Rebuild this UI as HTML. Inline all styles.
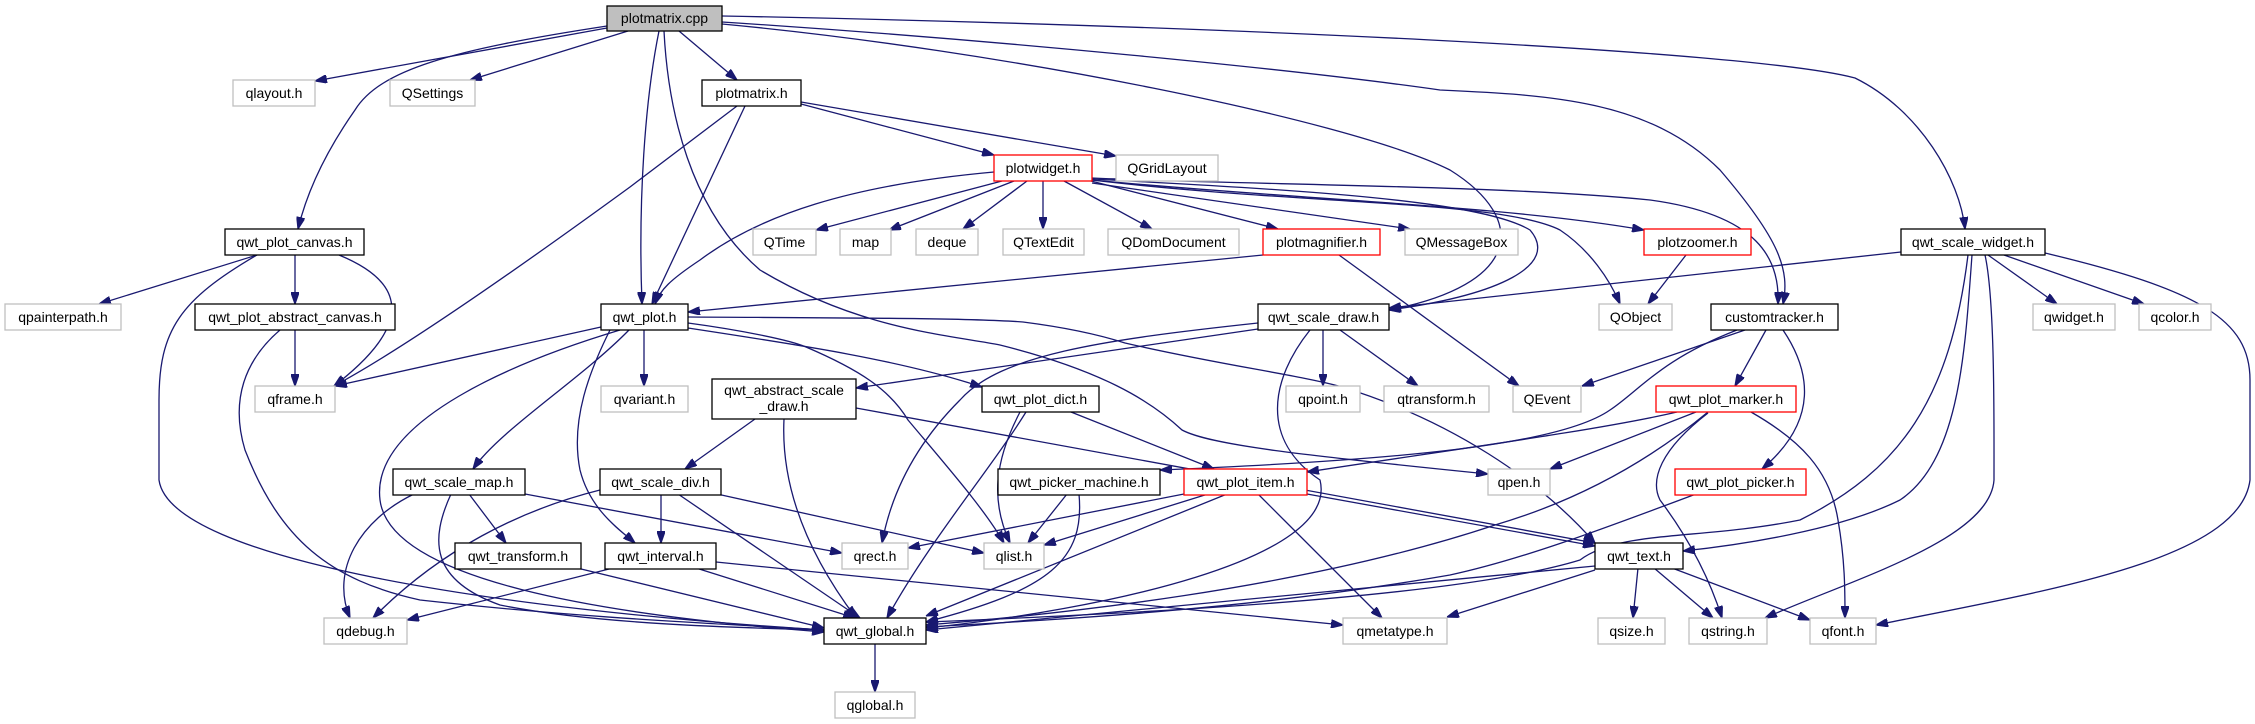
<!DOCTYPE html>
<html><head><meta charset="utf-8"><style>
html,body{margin:0;padding:0;background:#fff;}
svg{display:block;}
text{font-family:"Liberation Sans",sans-serif;font-size:14px;fill:#000;}
.n rect{fill:#fff;stroke:#000;stroke-width:1.3;}
.g rect{fill:#fff;stroke:#bfbfbf;stroke-width:1.3;}
.r rect{fill:#fff;stroke:#ff0000;stroke-width:1.3;}
.e path{fill:none;stroke:#191970;stroke-width:1.3;marker-end:url(#a);}
</style></head><body>
<svg width="2255" height="724" viewBox="0 0 2255 724" xmlns="http://www.w3.org/2000/svg">
<defs><marker id="a" viewBox="0 0 10 7" markerWidth="12" markerHeight="8.4" refX="10" refY="3.5" orient="auto" markerUnits="userSpaceOnUse"><path d="M0,0 L10,3.5 L0,7 z" fill="#191970" stroke="#191970"/></marker></defs>
<g class="e">
<path d="M607,28 L315,81"/>
<path d="M628,31 L470,80"/>
<path d="M607,26 C450,50 380,70 355,110 C320,160 305,200 298,229"/>
<path d="M679,31 L737,80"/>
<path d="M659,31 C645,100 638,200 642,304"/>
<path d="M664,31 C668,110 690,210 760,270 C860,330 950,335 1000,345 C1100,370 1150,400 1182,430 C1210,445 1300,455 1488,474"/>
<path d="M722,16 C1200,25 1750,50 1855,78 C1920,110 1960,180 1965,229"/>
<path d="M722,22 C1000,40 1300,70 1440,90 C1550,95 1650,100 1720,170 C1780,240 1790,270 1783,304"/>
<path d="M722,24 C1000,50 1350,120 1450,170 C1530,220 1520,285 1389,310"/>
<path d="M801,104 L994,155"/>
<path d="M801,102 L1116,156"/>
<path d="M745,106 L652,304"/>
<path d="M737,106 L630,187 Q420,340 334,386"/>
<path d="M1002,181 L816,230"/>
<path d="M1014,181 L889,230"/>
<path d="M1027,181 L963,229"/>
<path d="M1043,181 L1043,229"/>
<path d="M1064,181 L1152,229"/>
<path d="M1091,181 L1278,229"/>
<path d="M1092,183 L1410,229"/>
<path d="M994,172 C850,185 760,215 700,260 C670,280 660,290 655,304"/>
<path d="M1092,178 C1250,185 1500,185 1650,200 C1760,215 1780,260 1778,304"/>
<path d="M1092,180 C1300,200 1500,205 1644,230"/>
<path d="M1092,180 C1300,205 1500,200 1560,230 C1590,250 1610,280 1620,304"/>
<path d="M1092,179 C1300,190 1480,200 1530,230 C1560,265 1500,295 1389,310"/>
<path d="M1263,255 L688,312"/>
<path d="M1339,255 L1519,386"/>
<path d="M1686,255 L1648,304"/>
<path d="M1901,252 L1389,308"/>
<path d="M1988,255 L2057,304"/>
<path d="M2004,255 L2144,304"/>
<path d="M2045,253 C2200,290 2250,320 2250,380 L2250,480 C2240,560 2050,590 1876,625"/>
<path d="M1985,255 C1995,300 1994,420 1994,480 C1990,540 1850,580 1765,618"/>
<path d="M1972,255 C1965,350 1960,460 1900,500 C1840,530 1740,545 1683,551"/>
<path d="M1968,255 C1950,400 1900,470 1800,520 C1700,540 1620,530 1580,560 C1450,600 1100,615 926,622"/>
<path d="M1745,330 L1582,386"/>
<path d="M1766,330 L1735,386"/>
<path d="M1783,330 C1810,370 1820,420 1762,469"/>
<path d="M1737,330 C1660,360 1640,390 1610,410 C1560,445 1400,460 1160,470"/>
<path d="M257,255 L99,304"/>
<path d="M295,255 L295,304"/>
<path d="M339,255 C400,280 420,320 334,386"/>
<path d="M257,255 C180,300 159,330 159,400 L159,480 C170,560 500,610 824,630"/>
<path d="M295,330 L295,386"/>
<path d="M280,330 C245,360 230,400 245,450 C280,540 330,580 420,600 C600,620 750,625 824,630"/>
<path d="M601,327 L335,386"/>
<path d="M644,330 L644,386"/>
<path d="M629,330 C580,380 500,430 473,469"/>
<path d="M620,330 C520,360 370,420 380,500 C390,580 600,615 824,632"/>
<path d="M610,330 C590,370 570,420 580,470 C590,510 620,530 635,543"/>
<path d="M688,328 C800,345 900,360 982,387"/>
<path d="M688,323 C740,330 790,340 806,347 C860,370 890,390 908,420 C950,470 985,510 1004,543"/>
<path d="M688,317 C850,318 970,318 1023,322 C1070,328 1100,335 1125,343 C1220,365 1300,375 1342,387 C1450,420 1540,480 1595,543"/>
<path d="M1323,330 L1323,386"/>
<path d="M1340,330 L1418,386"/>
<path d="M1258,329 L856,388"/>
<path d="M1258,323 C1100,340 1000,355 960,400 C910,450 890,500 882,543"/>
<path d="M1310,330 C1270,380 1260,440 1320,480 C1340,560 1100,610 926,628"/>
<path d="M755,419 L685,469"/>
<path d="M784,419 C780,500 820,570 856,618"/>
<path d="M856,408 L1595,543"/>
<path d="M1071,412 L1214,469"/>
<path d="M1026,412 C990,470 930,540 887,618"/>
<path d="M1020,412 C995,460 990,500 1010,543"/>
<path d="M661,494 L661,543"/>
<path d="M678,494 L860,618"/>
<path d="M717,494 L984,553"/>
<path d="M600,490 C520,510 440,550 373,618"/>
<path d="M414,494 C360,520 330,570 350,618"/>
<path d="M469,494 L506,543"/>
<path d="M451,494 C430,540 430,580 500,605 C600,625 750,628 824,630"/>
<path d="M525,494 L842,553"/>
<path d="M577,568 L824,628"/>
<path d="M613,568 L407,620"/>
<path d="M696,568 L855,618"/>
<path d="M716,562 C900,580 1100,600 1343,625"/>
<path d="M1067,494 L1028,543"/>
<path d="M1079,494 C1085,560 1050,590 926,622"/>
<path d="M1184,494 L908,548"/>
<path d="M1208,494 L1044,545"/>
<path d="M1227,494 L926,616"/>
<path d="M1258,494 L1382,618"/>
<path d="M1307,494 L1595,546"/>
<path d="M1677,412 C1600,430 1450,450 1307,472"/>
<path d="M1696,412 L1550,469"/>
<path d="M1708,412 C1650,460 1580,500 1495,525 C1300,590 1050,615 926,625"/>
<path d="M1708,413 C1660,450 1650,480 1660,500 C1690,540 1710,580 1722,618"/>
<path d="M1751,412 C1800,440 1830,470 1838,520 C1845,560 1845,590 1845,618"/>
<path d="M1696,494 C1600,530 1520,560 1450,575 C1250,610 1050,620 926,627"/>
<path d="M1638,568 L1633,618"/>
<path d="M1654,568 L1713,618"/>
<path d="M1672,568 L1810,620"/>
<path d="M1595,566 L926,630"/>
<path d="M1595,570 L1447,617"/>
<path d="M875,643 L875,692"/>
</g>
<g class="g"><rect x="607" y="6" width="115" height="25" style="fill:#bfbfbf;stroke:#000"/><text x="664.5" y="23" text-anchor="middle">plotmatrix.cpp</text></g>
<g class="g"><rect x="233" y="80" width="82" height="26"/><text x="274" y="98" text-anchor="middle">qlayout.h</text></g>
<g class="g"><rect x="390" y="80" width="85" height="26"/><text x="432.5" y="98" text-anchor="middle">QSettings</text></g>
<g class="n"><rect x="702" y="80" width="99" height="26"/><text x="751.5" y="98" text-anchor="middle">plotmatrix.h</text></g>
<g class="r"><rect x="994" y="155" width="98" height="26"/><text x="1043" y="173" text-anchor="middle">plotwidget.h</text></g>
<g class="g"><rect x="1116" y="155" width="102" height="26"/><text x="1167" y="173" text-anchor="middle">QGridLayout</text></g>
<g class="n"><rect x="225" y="229" width="139" height="26"/><text x="294.5" y="247" text-anchor="middle">qwt_plot_canvas.h</text></g>
<g class="g"><rect x="753" y="229" width="63" height="26"/><text x="784.5" y="247" text-anchor="middle">QTime</text></g>
<g class="g"><rect x="840" y="229" width="51" height="26"/><text x="865.5" y="247" text-anchor="middle">map</text></g>
<g class="g"><rect x="916" y="229" width="62" height="26"/><text x="947" y="247" text-anchor="middle">deque</text></g>
<g class="g"><rect x="1003" y="229" width="81" height="26"/><text x="1043.5" y="247" text-anchor="middle">QTextEdit</text></g>
<g class="g"><rect x="1108" y="229" width="131" height="26"/><text x="1173.5" y="247" text-anchor="middle">QDomDocument</text></g>
<g class="r"><rect x="1263" y="229" width="117" height="26"/><text x="1321.5" y="247" text-anchor="middle">plotmagnifier.h</text></g>
<g class="g"><rect x="1405" y="229" width="113" height="26"/><text x="1461.5" y="247" text-anchor="middle">QMessageBox</text></g>
<g class="r"><rect x="1644" y="229" width="107" height="26"/><text x="1697.5" y="247" text-anchor="middle">plotzoomer.h</text></g>
<g class="n"><rect x="1901" y="229" width="144" height="26"/><text x="1973" y="247" text-anchor="middle">qwt_scale_widget.h</text></g>
<g class="g"><rect x="5" y="304" width="116" height="26"/><text x="63" y="322" text-anchor="middle">qpainterpath.h</text></g>
<g class="n"><rect x="195" y="304" width="200" height="26"/><text x="295" y="322" text-anchor="middle">qwt_plot_abstract_canvas.h</text></g>
<g class="n"><rect x="601" y="304" width="87" height="26"/><text x="644.5" y="322" text-anchor="middle">qwt_plot.h</text></g>
<g class="n"><rect x="1258" y="304" width="131" height="26"/><text x="1323.5" y="322" text-anchor="middle">qwt_scale_draw.h</text></g>
<g class="g"><rect x="1599" y="304" width="73" height="26"/><text x="1635.5" y="322" text-anchor="middle">QObject</text></g>
<g class="n"><rect x="1711" y="304" width="127" height="26"/><text x="1774.5" y="322" text-anchor="middle">customtracker.h</text></g>
<g class="g"><rect x="2033" y="304" width="82" height="26"/><text x="2074" y="322" text-anchor="middle">qwidget.h</text></g>
<g class="g"><rect x="2139" y="304" width="72" height="26"/><text x="2175" y="322" text-anchor="middle">qcolor.h</text></g>
<g class="g"><rect x="255" y="386" width="80" height="26"/><text x="295" y="404" text-anchor="middle">qframe.h</text></g>
<g class="g"><rect x="601" y="386" width="87" height="26"/><text x="644.5" y="404" text-anchor="middle">qvariant.h</text></g>
<g class="n"><rect x="712" y="379" width="144" height="40"/><text x="784" y="395" text-anchor="middle">qwt_abstract_scale</text><text x="784" y="411" text-anchor="middle">_draw.h</text></g>
<g class="n"><rect x="982" y="386" width="117" height="26"/><text x="1040.5" y="404" text-anchor="middle">qwt_plot_dict.h</text></g>
<g class="g"><rect x="1286" y="386" width="74" height="26"/><text x="1323" y="404" text-anchor="middle">qpoint.h</text></g>
<g class="g"><rect x="1384" y="386" width="105" height="26"/><text x="1436.5" y="404" text-anchor="middle">qtransform.h</text></g>
<g class="g"><rect x="1513" y="386" width="68" height="26"/><text x="1547" y="404" text-anchor="middle">QEvent</text></g>
<g class="r"><rect x="1656" y="386" width="140" height="26"/><text x="1726" y="404" text-anchor="middle">qwt_plot_marker.h</text></g>
<g class="n"><rect x="393" y="469" width="132" height="26"/><text x="459" y="487" text-anchor="middle">qwt_scale_map.h</text></g>
<g class="n"><rect x="600" y="469" width="121" height="26"/><text x="660.5" y="487" text-anchor="middle">qwt_scale_div.h</text></g>
<g class="n"><rect x="998" y="469" width="162" height="26"/><text x="1079" y="487" text-anchor="middle">qwt_picker_machine.h</text></g>
<g class="r"><rect x="1184" y="469" width="123" height="26"/><text x="1245.5" y="487" text-anchor="middle">qwt_plot_item.h</text></g>
<g class="g"><rect x="1488" y="469" width="62" height="26"/><text x="1519" y="487" text-anchor="middle">qpen.h</text></g>
<g class="r"><rect x="1675" y="469" width="131" height="26"/><text x="1740.5" y="487" text-anchor="middle">qwt_plot_picker.h</text></g>
<g class="n"><rect x="455" y="543" width="126" height="26"/><text x="518" y="561" text-anchor="middle">qwt_transform.h</text></g>
<g class="n"><rect x="605" y="543" width="111" height="26"/><text x="660.5" y="561" text-anchor="middle">qwt_interval.h</text></g>
<g class="g"><rect x="842" y="543" width="66" height="26"/><text x="875" y="561" text-anchor="middle">qrect.h</text></g>
<g class="g"><rect x="984" y="543" width="60" height="26"/><text x="1014" y="561" text-anchor="middle">qlist.h</text></g>
<g class="n"><rect x="1595" y="543" width="88" height="26"/><text x="1639" y="561" text-anchor="middle">qwt_text.h</text></g>
<g class="g"><rect x="324" y="618" width="83" height="26"/><text x="365.5" y="636" text-anchor="middle">qdebug.h</text></g>
<g class="n"><rect x="824" y="618" width="102" height="26"/><text x="875" y="636" text-anchor="middle">qwt_global.h</text></g>
<g class="g"><rect x="1343" y="618" width="104" height="26"/><text x="1395" y="636" text-anchor="middle">qmetatype.h</text></g>
<g class="g"><rect x="1598" y="618" width="67" height="26"/><text x="1631.5" y="636" text-anchor="middle">qsize.h</text></g>
<g class="g"><rect x="1689" y="618" width="78" height="26"/><text x="1728" y="636" text-anchor="middle">qstring.h</text></g>
<g class="g"><rect x="1810" y="618" width="66" height="26"/><text x="1843" y="636" text-anchor="middle">qfont.h</text></g>
<g class="g"><rect x="835" y="692" width="80" height="26"/><text x="875" y="710" text-anchor="middle">qglobal.h</text></g>
</svg>
</body></html>
